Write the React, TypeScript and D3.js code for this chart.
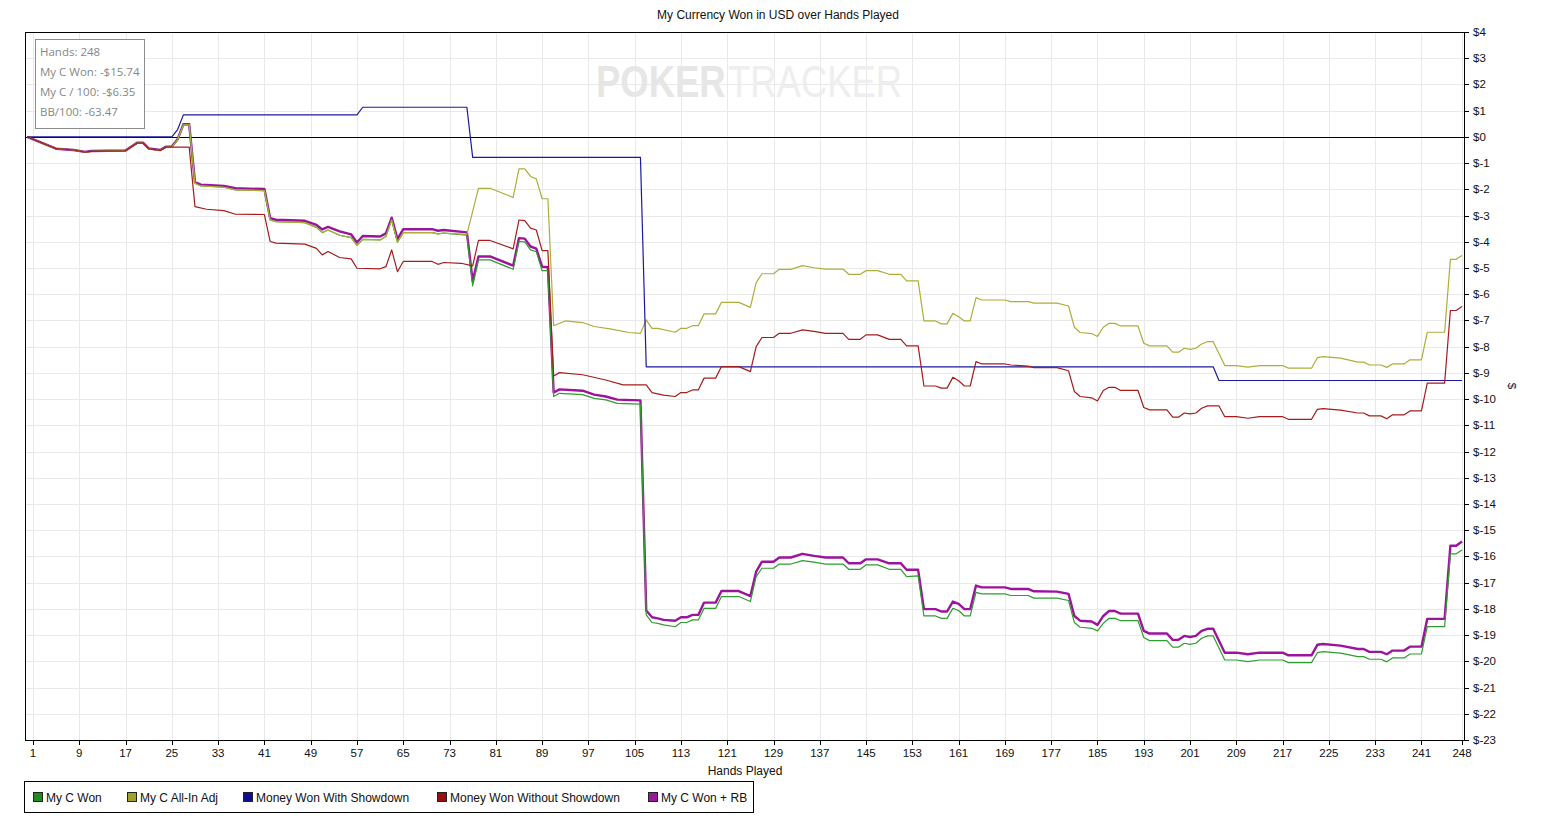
import * as d3 from "d3";

type Pt = [number, number];

const title = "My Currency Won in USD over Hands Played";

const xTicks = [1, 9, 17, 25, 33, 41, 49, 57, 65, 73, 81, 89, 97, 105, 113, 121, 129, 137, 145, 153, 161, 169, 177, 185, 193, 201, 209, 217, 225, 233, 241, 248];
const yTicks = [4, 3, 2, 1, 0, -1, -2, -3, -4, -5, -6, -7, -8, -9, -10, -11, -12, -13, -14, -15, -16, -17, -18, -19, -20, -21, -22, -23];

const statsLines = ["Hands: 248", "My C Won: -$15.74", "My C / 100: -$6.35", "BB/100: -63.47"];

// [hand, dollars] at the turning points of each line
const myCWon: Pt[] = [
  [0, 0], [5, -0.45], [8, -0.5], [10, -0.58], [11, -0.55], [17, -0.53], [19, -0.24], [20, -0.24], [21, -0.46], [23, -0.52],
  [24, -0.39], [25, -0.39], [26, -0.11], [27, 0.46], [28, 0.46], [29, -1.77], [30, -1.87], [34, -1.92], [36, -2.02], [41, -2.05],
  [42, -3.17], [43, -3.23], [48, -3.27], [50, -3.45], [51, -3.65], [52, -3.55], [54, -3.75], [56, -3.84], [57, -4.14], [58, -3.91],
  [61, -3.93], [62, -3.8], [63, -3.17], [64, -4.02], [65, -3.65], [70, -3.65], [71, -3.7], [72, -3.67], [76, -3.75], [77, -5.68],
  [78, -4.69], [80, -4.69], [84, -5.05], [85, -3.99], [86, -4.0], [87, -4.31], [88, -4.38], [89, -5.1], [90, -5.1], [91, -9.9],
  [92, -9.78], [96, -9.83], [98, -9.97], [100, -10.03], [102, -10.16], [106, -10.19], [107, -18.23], [108, -18.52], [109, -18.55], [110, -18.61],
  [112, -18.68], [113, -18.52], [114, -18.52], [115, -18.42], [116, -18.42], [117, -17.98], [119, -17.98], [120, -17.53], [123, -17.53], [125, -17.72],
  [126, -16.77], [127, -16.45], [129, -16.45], [130, -16.29], [132, -16.29], [134, -16.16], [136, -16.22], [138, -16.29], [141, -16.29], [142, -16.49],
  [144, -16.49], [145, -16.32], [147, -16.32], [149, -16.49], [151, -16.49], [152, -16.77], [154, -16.74], [155, -18.27], [157, -18.27], [158, -18.36],
  [159, -18.36], [160, -17.98], [161, -18.06], [162, -18.27], [163, -18.27], [164, -17.37], [165, -17.43], [169, -17.43], [170, -17.49], [173, -17.49],
  [174, -17.59], [178, -17.59], [180, -17.68], [181, -18.52], [182, -18.7], [184, -18.74], [185, -18.84], [186, -18.55], [187, -18.36], [188, -18.36],
  [189, -18.45], [192, -18.45], [193, -19.09], [194, -19.21], [197, -19.21], [198, -19.46], [199, -19.46], [200, -19.31], [201, -19.35], [202, -19.31],
  [203, -19.12], [204, -19.03], [205, -19.03], [207, -19.95], [209, -19.95], [211, -20.01], [213, -19.95], [217, -19.95], [218, -20.05], [222, -20.05],
  [223, -19.67], [224, -19.63], [227, -19.69], [230, -19.82], [231, -19.82], [232, -19.92], [234, -19.92], [235, -20.02], [236, -19.87], [238, -19.87],
  [239, -19.72], [241, -19.72], [242, -18.68], [245, -18.68], [246, -15.9], [247, -15.9], [248, -15.75],
];

const allInAdj: Pt[] = [
  [0, 0], [5, -0.45], [8, -0.5], [10, -0.58], [11, -0.55], [17, -0.53], [19, -0.24], [20, -0.24], [21, -0.46], [23, -0.52],
  [24, -0.39], [25, -0.39], [26, -0.11], [27, 0.46], [28, 0.46], [29, -1.77], [30, -1.87], [34, -1.92], [36, -2.02], [41, -2.05],
  [42, -3.17], [43, -3.23], [48, -3.27], [50, -3.45], [51, -3.65], [52, -3.55], [54, -3.75], [56, -3.84], [57, -4.14], [58, -3.91],
  [61, -3.93], [62, -3.8], [63, -3.17], [64, -4.02], [65, -3.65], [70, -3.65], [71, -3.7], [72, -3.67], [76, -3.72], [78, -1.96],
  [80, -1.96], [84, -2.31], [85, -1.22], [86, -1.22], [87, -1.51], [88, -1.6], [89, -2.36], [90, -2.36], [91, -7.2], [93, -7.02],
  [96, -7.08], [98, -7.23], [101, -7.33], [104, -7.46], [106, -7.49], [107, -6.98], [108, -7.3], [109, -7.3], [112, -7.45], [113, -7.3],
  [114, -7.3], [115, -7.2], [116, -7.2], [117, -6.75], [119, -6.75], [120, -6.31], [123, -6.31], [125, -6.5], [126, -5.56], [127, -5.22],
  [129, -5.22], [130, -5.05], [132, -5.05], [134, -4.91], [136, -4.99], [138, -5.04], [141, -5.04], [142, -5.24], [144, -5.24], [145, -5.1],
  [147, -5.1], [149, -5.24], [151, -5.24], [152, -5.49], [154, -5.49], [155, -7.02], [157, -7.02], [158, -7.13], [159, -7.13], [160, -6.73],
  [161, -6.86], [162, -7.02], [163, -7.02], [164, -6.13], [165, -6.22], [169, -6.22], [170, -6.28], [173, -6.28], [174, -6.34], [178, -6.34],
  [180, -6.45], [181, -7.26], [182, -7.46], [184, -7.5], [185, -7.61], [186, -7.26], [187, -7.11], [188, -7.11], [189, -7.21], [192, -7.21],
  [193, -7.87], [194, -7.97], [197, -7.97], [198, -8.21], [199, -8.21], [200, -8.06], [201, -8.1], [202, -8.06], [203, -7.9], [204, -7.81],
  [205, -7.81], [207, -8.72], [209, -8.72], [211, -8.78], [213, -8.72], [217, -8.72], [218, -8.82], [222, -8.82], [223, -8.42], [224, -8.38],
  [227, -8.44], [230, -8.59], [231, -8.59], [232, -8.7], [234, -8.7], [235, -8.79], [236, -8.66], [238, -8.66], [239, -8.5], [241, -8.5],
  [242, -7.45], [245, -7.45], [246, -4.67], [247, -4.67], [248, -4.52],
];

const withShowdown: Pt[] = [
  [0, 0], [25, 0], [26, 0.28], [27, 0.84], [57, 0.84], [58, 1.13], [76, 1.13], [77, -0.78], [106, -0.78], [107, -8.77],
  [205, -8.77], [206, -9.29], [248, -9.29],
];

const withoutShowdown: Pt[] = [
  [0, 0], [5, -0.45], [8, -0.5], [10, -0.58], [11, -0.55], [17, -0.53], [19, -0.24], [20, -0.24], [21, -0.46], [23, -0.52],
  [24, -0.39], [28, -0.39], [29, -2.66], [31, -2.76], [34, -2.81], [36, -2.95], [41, -2.96], [42, -3.99], [43, -4.05], [48, -4.09],
  [50, -4.25], [51, -4.5], [52, -4.37], [54, -4.6], [56, -4.65], [57, -5.01], [61, -5.03], [62, -4.95], [63, -4.31], [64, -5.14],
  [65, -4.75], [70, -4.75], [71, -4.86], [72, -4.79], [75, -4.82], [77, -4.92], [78, -3.95], [80, -3.95], [84, -4.27], [85, -3.17],
  [86, -3.19], [87, -3.48], [88, -3.55], [89, -4.34], [90, -4.34], [91, -9.12], [92, -8.99], [96, -9.07], [100, -9.27], [103, -9.46],
  [107, -9.46], [108, -9.75], [109, -9.8], [110, -9.85], [112, -9.9], [113, -9.75], [114, -9.75], [115, -9.65], [116, -9.65], [117, -9.2],
  [119, -9.2], [120, -8.76], [123, -8.76], [125, -8.95], [126, -8.0], [127, -7.65], [129, -7.65], [130, -7.49], [132, -7.49], [134, -7.36],
  [136, -7.42], [138, -7.49], [141, -7.49], [142, -7.72], [144, -7.72], [145, -7.55], [147, -7.55], [149, -7.72], [151, -7.72], [152, -7.97],
  [154, -7.97], [155, -9.5], [157, -9.5], [158, -9.58], [159, -9.58], [160, -9.17], [161, -9.3], [162, -9.5], [163, -9.5], [164, -8.57],
  [165, -8.66], [169, -8.66], [170, -8.7], [173, -8.74], [174, -8.8], [178, -8.8], [180, -8.92], [181, -9.71], [182, -9.9], [184, -9.95],
  [185, -10.07], [186, -9.67], [187, -9.55], [188, -9.55], [189, -9.67], [192, -9.67], [193, -10.32], [194, -10.41], [197, -10.41], [198, -10.69],
  [199, -10.69], [200, -10.53], [201, -10.56], [202, -10.53], [203, -10.35], [204, -10.26], [206, -10.26], [207, -10.67], [209, -10.67], [211, -10.73],
  [213, -10.67], [217, -10.67], [218, -10.77], [222, -10.77], [223, -10.39], [224, -10.36], [227, -10.42], [230, -10.53], [231, -10.53], [232, -10.64],
  [234, -10.64], [235, -10.75], [236, -10.6], [238, -10.6], [239, -10.45], [241, -10.45], [242, -9.39], [245, -9.39], [246, -6.62], [247, -6.62],
  [248, -6.47],
];

const wonPlusRb: Pt[] = [
  [0, 0], [5, -0.45], [8, -0.5], [10, -0.57], [11, -0.54], [17, -0.52], [19, -0.22], [20, -0.22], [21, -0.44], [23, -0.5],
  [24, -0.37], [25, -0.37], [26, -0.09], [27, 0.48], [28, 0.48], [29, -1.72], [30, -1.82], [34, -1.87], [36, -1.96], [41, -1.99],
  [42, -3.1], [43, -3.16], [48, -3.2], [50, -3.36], [51, -3.53], [52, -3.43], [54, -3.6], [56, -3.72], [57, -4.03], [58, -3.78],
  [61, -3.8], [62, -3.68], [63, -3.08], [64, -3.9], [65, -3.52], [70, -3.52], [71, -3.58], [72, -3.55], [76, -3.64], [77, -5.5],
  [78, -4.56], [80, -4.56], [84, -4.91], [85, -3.86], [86, -3.88], [87, -4.18], [88, -4.26], [89, -4.95], [90, -4.97], [91, -9.75],
  [92, -9.63], [96, -9.68], [98, -9.83], [100, -9.9], [102, -10.02], [106, -10.05], [107, -18.06], [108, -18.32], [109, -18.36], [110, -18.42],
  [112, -18.45], [113, -18.32], [114, -18.32], [115, -18.23], [116, -18.23], [117, -17.76], [119, -17.76], [120, -17.32], [123, -17.32], [125, -17.51],
  [126, -16.58], [127, -16.2], [129, -16.2], [130, -16.04], [132, -16.04], [134, -15.9], [136, -15.98], [138, -16.04], [141, -16.04], [142, -16.26],
  [144, -16.26], [145, -16.11], [147, -16.11], [149, -16.26], [151, -16.26], [152, -16.51], [154, -16.51], [155, -18.01], [157, -18.01], [158, -18.1],
  [159, -18.1], [160, -17.72], [161, -17.81], [162, -18.01], [163, -18.01], [164, -17.11], [165, -17.18], [169, -17.18], [170, -17.24], [173, -17.24],
  [174, -17.33], [178, -17.34], [180, -17.43], [181, -18.27], [182, -18.45], [184, -18.48], [185, -18.61], [186, -18.27], [187, -18.08], [188, -18.08],
  [189, -18.18], [192, -18.18], [193, -18.84], [194, -18.94], [197, -18.94], [198, -19.18], [199, -19.18], [200, -19.03], [201, -19.07], [202, -19.03],
  [203, -18.84], [204, -18.76], [205, -18.76], [207, -19.67], [209, -19.67], [211, -19.73], [213, -19.67], [217, -19.67], [218, -19.77], [222, -19.77],
  [223, -19.37], [224, -19.34], [227, -19.4], [230, -19.53], [231, -19.53], [232, -19.64], [234, -19.64], [235, -19.73], [236, -19.59], [238, -19.59],
  [239, -19.44], [241, -19.44], [242, -18.38], [245, -18.38], [246, -15.59], [247, -15.59], [248, -15.43],
];

const series = [
  { name: "My C Won", data: myCWon, color: "#2f9d2f", box: "#1e8c1e", width: 1.2 },
  { name: "My C All-In Adj", data: allInAdj, color: "#aeae3a", box: "#a0a02a", width: 1.2 },
  { name: "Money Won With Showdown", data: withShowdown, color: "#1a1aa0", box: "#10108a", width: 1.2 },
  { name: "Money Won Without Showdown", data: withoutShowdown, color: "#a51c1c", box: "#9a1010", width: 1.2 },
  { name: "My C Won + RB", data: wonPlusRb, color: "#9c149c", box: "#9a189a", width: 2.4 },
];
// draw order: purple underneath, the rest on top
const drawOrder = [4, 0, 1, 2, 3];
const legendX = [33, 127, 243, 437, 648];

const W = 1546, H = 830;
const plot = { left: 25, right: 1464, top: 32, bottom: 740 };
const font = "'Liberation Sans', Arial, sans-serif";

export default function App() {
  const x = d3.scaleLinear().domain([-0.38, 248.35]).range([plot.left, plot.right]);
  const y = d3.scaleLinear().domain([-23, 4]).range([plot.bottom, plot.top]);
  const line = d3.line<Pt>().x((d) => x(d[0])).y((d) => y(d[1]));

  return (
    <svg width={W} height={H} style={{ position: "absolute", left: 0, top: 0, background: "#fff" }}>
      <text x={778} y={19} textAnchor="middle" fontFamily={font} fontSize={12} fill="#111">{title}</text>

      {/* grid */}
      <g stroke="#e9e9e9" strokeWidth={1}>
        {xTicks.map((t) => (
          <line key={"gx" + t} x1={Math.round(x(t)) + 0.5} x2={Math.round(x(t)) + 0.5} y1={plot.top} y2={plot.bottom} />
        ))}
        {yTicks.map((t) => (
          <line key={"gy" + t} x1={plot.left} x2={plot.right} y1={Math.round(y(t)) + 0.5} y2={Math.round(y(t)) + 0.5} />
        ))}
      </g>

      {/* watermark */}
      <text transform="translate(596,97) scale(0.81,1)" fontFamily={font} fontSize={45} fill="#e6e6e6">
        <tspan fontWeight="bold">POKER</tspan>
        <tspan fill="#eeeeee" dx={3}>TRACKER</tspan>
      </text>

      {/* zero line */}
      <line x1={plot.left} x2={plot.right} y1={Math.round(y(0)) + 0.5} y2={Math.round(y(0)) + 0.5} stroke="#000" />

      {/* series */}
      <g fill="none" strokeLinejoin="round">
        {drawOrder.map((i) => (
          <path key={series[i].name} d={line(series[i].data) ?? ""} stroke={series[i].color} strokeWidth={series[i].width} />
        ))}
      </g>

      {/* frame */}
      <rect x={plot.left + 0.5} y={plot.top + 0.5} width={plot.right - plot.left} height={plot.bottom - plot.top} fill="none" stroke="#000" />

      {/* right axis */}
      <g fontFamily={font} fontSize={11.5} fill="#111">
        {yTicks.map((t) => (
          <g key={"ty" + t}>
            <line x1={plot.right} x2={plot.right + 5} y1={Math.round(y(t)) + 0.5} y2={Math.round(y(t)) + 0.5} stroke="#000" />
            <text x={plot.right + 9} y={y(t) + 4}>{`$${t}`}</text>
          </g>
        ))}
        <text transform={`translate(1508,386) rotate(90)`} textAnchor="middle">$</text>
      </g>

      {/* bottom axis */}
      <g fontFamily={font} fontSize={11.5} fill="#111">
        {xTicks.map((t) => (
          <g key={"tx" + t}>
            <line x1={Math.round(x(t)) + 0.5} x2={Math.round(x(t)) + 0.5} y1={plot.bottom} y2={plot.bottom + 5} stroke="#000" />
            <text x={x(t)} y={757} textAnchor="middle">{t}</text>
          </g>
        ))}
        <text x={745} y={775} textAnchor="middle" fontSize={12}>Hands Played</text>
      </g>

      {/* stats box */}
      <rect x={35.5} y={39.5} width={109} height={89} fill="#fff" stroke="#8c8c8c" />
      <g fontFamily="'Open Sans', 'Noto Sans', sans-serif" fontSize={11.5} fill="#878787">
        {statsLines.map((s, i) => (
          <text key={s} x={40} y={56 + i * 20}>{s}</text>
        ))}
      </g>

      {/* legend */}
      <rect x={24.5} y={781.5} width={729} height={31} fill="#fff" stroke="#000" />
      <g fontFamily={font} fontSize={12} fill="#111">
        {series.map((s, i) => (
          <g key={"lg" + s.name}>
            <rect x={legendX[i] + 0.5} y={792.5} width={9} height={9} fill={s.box} stroke="#222" />
            <text x={legendX[i] + 13} y={801.5}>{s.name}</text>
          </g>
        ))}
      </g>
    </svg>
  );
}
